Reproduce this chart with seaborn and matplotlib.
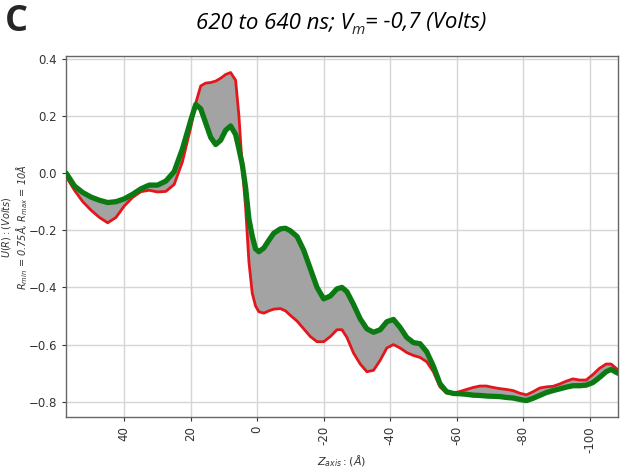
import numpy as np
import pandas as pd
import seaborn as sns
import matplotlib
matplotlib.use("Agg")
import matplotlib.pyplot as plt

# z positions (Angstrom) and potential profiles (Volts)
z_axis = [57.5, 55, 52.5, 50, 47.5, 45, 42.5, 40, 37.5, 35, 32.5, 30, 27.5, 25, 22.5,
          20, 18.5, 17, 15.5, 14, 12.5, 11, 9.5, 8, 6.5, 5.5, 4.5, 3.5, 2.5, 1.5, 0.5,
          -0.5, -2, -3.5, -5, -7, -8.5, -10, -12, -14, -16, -18, -20, -22, -24, -25.5,
          -27, -29, -31, -33, -35, -37, -39, -41, -43, -45, -47, -49, -51, -53, -55,
          -57, -59, -61, -63, -65, -67, -69, -71, -73, -75, -77, -79, -81, -83, -85,
          -87, -89, -91, -93, -95, -97, -99, -101, -103, -105, -106.5, -108.5]
u_end = [0.0, -0.045, -0.068, -0.084, -0.095, -0.103, -0.100, -0.090, -0.074, -0.055,
         -0.042, -0.042, -0.028, 0.005, 0.085, 0.185, 0.240, 0.225, 0.175, 0.125, 0.100,
         0.115, 0.150, 0.165, 0.135, 0.085, 0.030, -0.050, -0.160, -0.220, -0.265,
         -0.275, -0.262, -0.235, -0.210, -0.195, -0.193, -0.202, -0.222, -0.270, -0.335,
         -0.400, -0.440, -0.430, -0.405, -0.400, -0.415, -0.460, -0.510, -0.545, -0.557,
         -0.548, -0.520, -0.512, -0.540, -0.575, -0.593, -0.597, -0.625, -0.675, -0.737,
         -0.765, -0.771, -0.772, -0.774, -0.777, -0.778, -0.780, -0.781, -0.782, -0.785,
         -0.787, -0.792, -0.796, -0.788, -0.778, -0.768, -0.761, -0.755, -0.749, -0.744,
         -0.744, -0.742, -0.733, -0.715, -0.695, -0.687, -0.700]
u_start = [-0.012, -0.060, -0.100, -0.130, -0.155, -0.174, -0.155, -0.115, -0.085, -0.065,
           -0.060, -0.066, -0.064, -0.040, 0.040, 0.160, 0.245, 0.305, 0.315, 0.317, 0.322,
           0.332, 0.345, 0.352, 0.325, 0.200, 0.020, -0.120, -0.310, -0.420, -0.465,
           -0.485, -0.490, -0.482, -0.476, -0.474, -0.482, -0.498, -0.518, -0.545, -0.572,
           -0.590, -0.590, -0.572, -0.548, -0.548, -0.575, -0.630, -0.668, -0.695, -0.690,
           -0.655, -0.612, -0.600, -0.612, -0.628, -0.638, -0.645, -0.660, -0.695, -0.748,
           -0.770, -0.770, -0.764, -0.757, -0.750, -0.745, -0.745, -0.750, -0.754, -0.757,
           -0.761, -0.770, -0.776, -0.765, -0.752, -0.748, -0.746, -0.738, -0.728, -0.720,
           -0.724, -0.724, -0.705, -0.683, -0.668, -0.668, -0.688]
x_ticks = [40, 20, 0, -20, -40, -60, -80, -100]

df = pd.DataFrame({"z": z_axis, "start": u_start, "end": u_end})

sns.set_theme(style="whitegrid")
plt.rcParams["font.family"] = ["DejaVu Sans"]
plt.rcParams["mathtext.fontset"] = "dejavusans"

fig = plt.figure(figsize=(6.24, 4.70), dpi=100)
ax = fig.add_axes([0.106, 0.113, 0.884, 0.768])

ax.fill_between(df["z"], df["start"], df["end"], color="#a3a3a3", lw=0, zorder=2)
sns.lineplot(data=df, x="z", y="start", color="#e3161c", lw=2.0, ax=ax, zorder=3, sort=False)
sns.lineplot(data=df, x="z", y="end", color="#0b7a12", lw=3.8, ax=ax, zorder=4, sort=False)

ax.set_xlim(57.5, -108.5)
ax.set_ylim(-0.853, 0.41)
ax.set_xticks(x_ticks)
ax.set_xticklabels([str(t) for t in x_ticks], rotation=90, fontsize=8.5, color="#333333")
ax.set_yticks([0.4, 0.2, 0.0, -0.2, -0.4, -0.6, -0.8])
ax.tick_params(axis="y", labelsize=8.5, colors="#333333", length=3, width=0.8, left=True)
ax.tick_params(axis="x", length=3, width=0.8, bottom=True, colors="#333333")
ax.grid(True, color="#d5d5d5", lw=1)
for s in ax.spines.values():
    s.set_color("#666666")
    s.set_linewidth(1)

ax.set_xlabel(r"$Z_{axis} : (\AA)$", fontsize=8, color="#333333", va="center")
ax.xaxis.set_label_coords(0.5, -0.122)
ax.set_ylabel("$U(R) : (Volts)$\n$R_{min}$ = 0.75$\\AA$, $R_{max}$ = 10$\\AA$",
              fontsize=7, color="#333333", linespacing=1.1, va="center")
ax.yaxis.label.set_fontstyle("italic")
ax.yaxis.set_label_coords(-0.093, 0.526)

fig.text(0.008, 0.953, "C", fontsize=26, fontweight="bold", family="Open Sans", va="center")

# title with subscript, built from pieces
fig.canvas.draw()
r = fig.canvas.get_renderer()
tfont = dict(family="Open Sans", style="italic", fontsize=16, color="black")
W = fig.bbox.width
t1 = fig.text(0.314, 0.94, "620 to 640 ns; V", va="baseline", **tfont)
x1 = t1.get_window_extent(r).x1 / W - 1.0 / W
t2 = fig.text(x1, 0.928, "m", va="baseline", family="Open Sans", style="italic", fontsize=11)
x2 = t2.get_window_extent(r).x1 / W
fig.text(x2, 0.94, "= -0,7 (Volts)", va="baseline", **tfont)

fig.savefig("out.png", dpi=100)
